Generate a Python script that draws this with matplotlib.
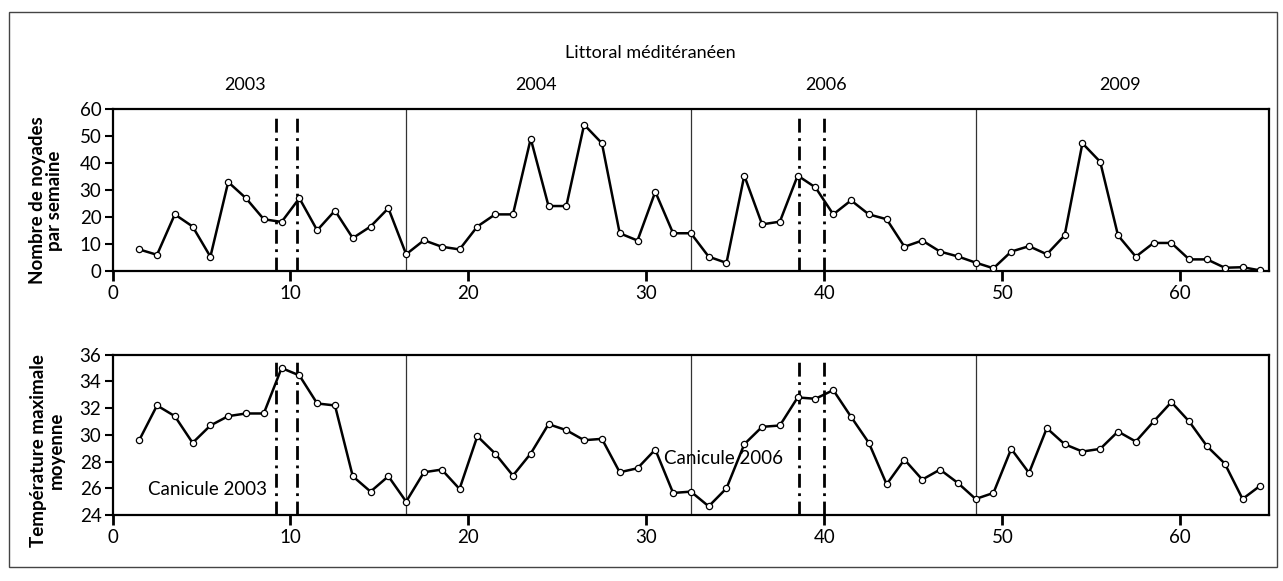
# -*- coding: utf-8 -*-
# noyades hebdomadaires et temperature max moyenne - littoral mediterraneen

import numpy as np
import matplotlib
matplotlib.use("Agg")
import matplotlib.pyplot as plt
from matplotlib.patches import Rectangle

plt.rcParams['font.family'] = ['Lato', 'DejaVu Sans']

# semaines (4 saisons x 16 semaines)
semaines = np.arange(1.5, 65, 1.0)

noyades = [8, 6, 21, 16.5, 5.3, 33, 27, 19.2, 18.2, 27, 15.1, 22.4, 12.2, 16.5, 23.3, 6.2,
           11.4, 9, 8, 16.5, 21, 21, 49.1, 24.1, 24.1, 54.3, 47.4, 14, 11.3, 29.4, 14, 14,
           5.3, 3, 35.4, 17.3, 18.3, 35.4, 31, 21, 26.2, 21, 19.2, 9, 11.3, 7.2, 5.4, 3.1,
           1, 7.2, 9.2, 6.2, 13.2, 47.4, 40.5, 13.2, 5.3, 10.4, 10.4, 4.3, 4.3, 1.2, 1.4, 0.2]

temperature = [29.6, 32.2, 31.4, 29.4, 30.7, 31.4, 31.6, 31.6, 35.0, 34.45, 32.35, 32.2,
               26.9, 25.75, 26.9, 25.0,
               27.2, 27.4, 25.95, 29.9, 28.6, 26.95, 28.6, 30.8, 30.35, 29.6, 29.7, 27.2,
               27.5, 28.9, 25.65, 25.75,
               24.65, 26.0, 29.3, 30.6, 30.7, 32.8, 32.7, 33.35, 31.35, 29.4, 26.3, 28.15,
               26.65, 27.4, 26.4, 25.2,
               25.65, 28.95, 27.15, 30.5, 29.3, 28.75, 28.95, 30.25, 29.5, 31.0, 32.45,
               31.0, 29.15, 27.85, 25.2, 26.2]

annees = ["2003", "2004", "2006", "2009"]
annees_x = [7.45, 23.8, 40.1, 56.6]
separations = [16.5, 32.5, 48.5]
canicules = [9.2, 10.35, 38.6, 40.0]

fig = plt.figure(figsize=(12.83, 5.81), dpi=100)
ax1 = fig.add_axes([0.0877, 0.5336, 0.9016, 0.2783])
ax2 = fig.add_axes([0.0877, 0.1136, 0.9016, 0.2759])

# cadre autour de la figure
fig.patches.append(Rectangle((0.007, 0.024), 0.988, 0.955, transform=fig.transFigure,
                             fill=False, edgecolor='#444444', linewidth=1))


def panneau(ax, y, ylim, yticks):
    for s in separations:
        ax.axvline(s, color='#333333', linewidth=0.9, zorder=1)
    for c in canicules:
        ax.axvline(c, ymax=0.97, color='black', linewidth=2, linestyle=(0, (5, 2, 1, 2)),
                   zorder=2)
    ax.plot(semaines, y, color='black', linewidth=1.8, marker='o', markersize=4.5,
            markerfacecolor='white', markeredgecolor='black', markeredgewidth=0.9,
            zorder=3)
    ax.set_xlim(0, 65)
    ax.set_ylim(*ylim)
    ax.set_yticks(yticks)
    ax.set_xticks([0, 10, 20, 30, 40, 50, 60])
    for sp in ax.spines.values():
        sp.set_linewidth(1.6)
    ax.tick_params(axis='y', direction='out', length=6, width=1.5, labelsize=13.5, pad=2)
    ax.tick_params(axis='x', direction='out', length=7, width=2, labelsize=13.5, pad=3)


panneau(ax1, noyades, (0, 60), [0, 10, 20, 30, 40, 50, 60])
panneau(ax2, temperature, (24, 36), [24, 26, 28, 30, 32, 34, 36])

for a, xa in zip(annees, annees_x):
    ax1.text(xa, 1.1, a, transform=ax1.get_xaxis_transform(), ha='center', va='bottom',
             fontsize=13)
ax1.text(30.2, 1.3, "Littoral méditéranéen", transform=ax1.get_xaxis_transform(),
         ha='center', va='bottom', fontsize=13)

ax2.text(2.0, 25.9, "Canicule 2003", ha='left', va='center', fontsize=13.5)
ax2.text(31.0, 28.2, "Canicule 2006", ha='left', va='center', fontsize=13.5)

fig.text(0.036, 0.655, "Nombre de noyades\npar semaine", rotation=90, ha='center',
         va='center', multialignment='center', fontsize=13.5, fontweight='bold',
         linespacing=1.0)
fig.text(0.037, 0.225, "Température maximale\nmoyenne", rotation=90, ha='center',
         va='center', multialignment='center', fontsize=13.5, fontweight='bold',
         linespacing=1.0)

plt.savefig("out.png", dpi=100)
